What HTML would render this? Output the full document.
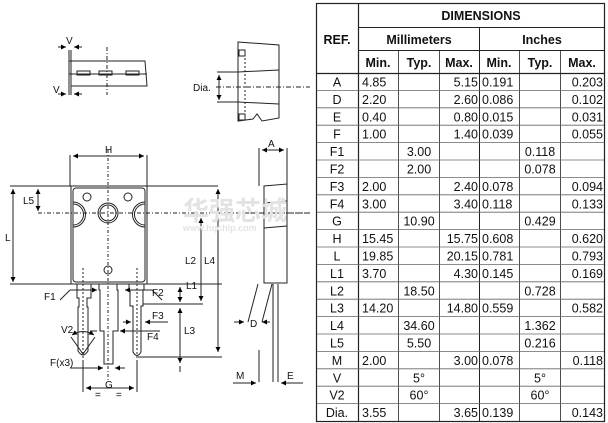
<!DOCTYPE html>
<html><head><meta charset="utf-8"><style>
body{margin:0;background:#fff;width:608px;height:423px;overflow:hidden;position:relative;font-family:"Liberation Sans",Arial,sans-serif}
svg{position:absolute;left:0;top:0}
</style></head><body>
<svg width="608" height="423" viewBox="0 0 608 423" font-family="Liberation Sans, Arial, sans-serif">
<defs><marker id="a" viewBox="0 0 6 6" refX="6" refY="3" markerWidth="5" markerHeight="5" orient="auto-start-reverse"><path d="M0,0L6,3L0,6z" fill="#000"/></marker></defs>
<g fill="none" stroke="#222" stroke-width="1">
<!-- top-left view -->
<path d="M69,61 H145 L147,86 H71"/>
<line x1="69" y1="74" x2="147" y2="74"/>
<rect x="77" y="71" width="13" height="4"/><rect x="99" y="71" width="13" height="4"/><rect x="126" y="71" width="13" height="4"/>
<line x1="69" y1="50" x2="69" y2="95"/><line x1="71" y1="50" x2="71" y2="95"/>
<line x1="107" y1="47" x2="107" y2="95" stroke-dasharray="4,2,1,2"/>
<line x1="58" y1="47" x2="66" y2="47" marker-end="url(#a)"/><line x1="82" y1="47" x2="74" y2="47" marker-end="url(#a)"/>
<line x1="58" y1="94" x2="66" y2="94" marker-end="url(#a)"/><line x1="82" y1="94" x2="74" y2="94" marker-end="url(#a)"/>
<!-- top-right view -->
<path d="M238,42 L279,45 L279,118 L262,121 L257,114 L253,119 L238,121 Z"/>
<line x1="238" y1="72" x2="279" y2="70"/><line x1="238" y1="102" x2="279" y2="104"/>
<rect x="239" y="50" width="6" height="6"/><rect x="239" y="114" width="6" height="6"/>
<line x1="245" y1="50" x2="245" y2="120" stroke-dasharray="2,2"/>
<line x1="217" y1="72" x2="238" y2="72"/><line x1="217" y1="102" x2="238" y2="102"/>
<line x1="219" y1="75" x2="219" y2="100" marker-start="url(#a)" marker-end="url(#a)"/>
<line x1="216" y1="87" x2="310" y2="87" stroke-dasharray="5,2,1,2"/>
<!-- main view -->
<line x1="70" y1="155" x2="70" y2="186"/><line x1="147" y1="155" x2="147" y2="186"/>
<line x1="73" y1="156" x2="144" y2="156" marker-start="url(#a)" marker-end="url(#a)"/>
<line x1="10" y1="186" x2="218" y2="186"/>
<line x1="10" y1="284" x2="222" y2="284"/>
<rect x="71" y="186" width="76" height="98"/>
<rect x="73" y="188" width="72" height="94" rx="3"/>
<circle cx="87" cy="197" r="4"/><circle cx="128" cy="197" r="4"/>
<circle cx="108" cy="213" r="10"/><circle cx="108" cy="213" r="8"/>
<path d="M73,202 A11,11 0 0 1 73,227 M73,204 A9,9 0 0 1 73,225"/>
<path d="M145,202 A11,11 0 0 0 145,227 M145,204 A9,9 0 0 0 145,225"/>
<circle cx="108" cy="270" r="4"/>
<line x1="108" y1="150" x2="108" y2="380" stroke-dasharray="3,2,1,2"/>
<line x1="38" y1="213" x2="310" y2="213" stroke-dasharray="4,2,1,2"/>
<line x1="13" y1="189" x2="13" y2="282" marker-start="url(#a)" marker-end="url(#a)"/>
<line x1="38" y1="189" x2="38" y2="211" marker-start="url(#a)" marker-end="url(#a)"/>
<line x1="201" y1="218" x2="201" y2="301" marker-start="url(#a)" marker-end="url(#a)"/>
<line x1="218" y1="189" x2="218" y2="352" marker-start="url(#a)" marker-end="url(#a)"/>
<line x1="180" y1="287" x2="180" y2="302" marker-start="url(#a)" marker-end="url(#a)"/>
<line x1="180" y1="308" x2="180" y2="363" marker-start="url(#a)" marker-end="url(#a)"/>
<line x1="180" y1="366" x2="180" y2="372" />
<line x1="143" y1="304" x2="203" y2="304"/><line x1="138" y1="357" x2="222" y2="357"/>
<!-- leads -->
<path d="M77,284 V298 H79 V307 H78 V351 Q83,359 88,351 V307 H87 V298 H91 V284"/>
<path d="M99,284 V290 H100 V331 H104 V364 H113 V331 H118 V290 H117 V284"/>
<path d="M129,284 V290 H130 V306 H133 V352 Q137,359 141,352 V306 H143 V290 H144 V284"/>
<line x1="83" y1="268" x2="83" y2="360" stroke-dasharray="2,2"/><line x1="137" y1="268" x2="137" y2="360" stroke-dasharray="2,2"/>
<line x1="83" y1="360" x2="83" y2="392"/><line x1="137" y1="360" x2="137" y2="392"/>
<line x1="86" y1="388" x2="134" y2="388" marker-start="url(#a)" marker-end="url(#a)"/>
<line x1="70" y1="368" x2="103" y2="368" marker-end="url(#a)"/><line x1="125" y1="368" x2="115" y2="368" marker-end="url(#a)"/>
<path d="M71,337 L83,354 L95,337"/><path d="M72,335 Q83,328 94,335" marker-start="url(#a)" marker-end="url(#a)"/>
<line x1="123" y1="322" x2="131" y2="322" marker-end="url(#a)"/><line x1="168" y1="322" x2="145" y2="322" marker-end="url(#a)"/>
<line x1="90" y1="331" x2="97" y2="331"/><line x1="160" y1="331" x2="120" y2="331" marker-end="url(#a)"/>
<line x1="60" y1="300" x2="70" y2="290"/><line x1="70" y1="290" x2="97" y2="290" marker-end="url(#a)"/>
<line x1="162" y1="300" x2="152" y2="290"/><line x1="152" y1="290" x2="125" y2="290" marker-end="url(#a)"/>
<!-- side view -->
<line x1="259" y1="148" x2="259" y2="186"/><line x1="287" y1="148" x2="287" y2="186"/>
<line x1="262" y1="150" x2="284" y2="150" marker-start="url(#a)" marker-end="url(#a)"/>
<path d="M264,186 L287,184 V283 H264 Z"/>
<line x1="264" y1="203" x2="287" y2="201"/><line x1="264" y1="228" x2="287" y2="226"/>
<line x1="250" y1="213" x2="310" y2="213" stroke-dasharray="4,2,1,2"/>
<path d="M273,284 V382 M278,284 V382"/>
<line x1="259" y1="350" x2="259" y2="382"/>
<line x1="258" y1="284" x2="248" y2="322"/><line x1="272" y1="284" x2="262" y2="322"/>
<line x1="234" y1="322" x2="244" y2="322" marker-end="url(#a)"/><line x1="270" y1="322" x2="262" y2="322" marker-end="url(#a)"/>
<line x1="233" y1="383" x2="256" y2="383" marker-end="url(#a)"/><line x1="303" y1="383" x2="281" y2="383" marker-end="url(#a)"/>
</g>
<g font-size="10" fill="#111">
<text x="66" y="44">V</text><text x="53" y="93">V</text><text x="193" y="91">Dia.</text>
<text x="105" y="153">H</text><text x="5" y="241">L</text><text x="23" y="204">L5</text>
<text x="185" y="264">L2</text><text x="204" y="264">L4</text><text x="186" y="289">L1</text><text x="184" y="334">L3</text>
<text x="44" y="300">F1</text><text x="152" y="296">F2</text><text x="152" y="319">F3</text><text x="147" y="340">F4</text>
<text x="61" y="333">V2</text><text x="50" y="366">F(x3)</text><text x="105" y="388">G</text>
<text x="95" y="398">=</text><text x="116" y="398">=</text>
<text x="268" y="147">A</text><text x="250" y="327">D</text><text x="236" y="379">M</text><text x="287" y="379">E</text>
</g>
<g fill="#e3e3e3" font-weight="bold"><text x="183" y="220" font-size="26" font-family="Noto Sans CJK SC, sans-serif">华强芯城</text>
<text x="183" y="231" font-size="9">www.hqchip.com</text></g>
<!-- table -->
<g stroke="#222" fill="none">
<rect x="316.5" y="3.5" width="288" height="418" stroke-width="1.2"/>
<line x1="358.5" y1="3" x2="358.5" y2="422" stroke-width="1.2"/>
<line x1="358" y1="27.5" x2="604" y2="27.5" stroke-width="1"/>
<line x1="358" y1="50.5" x2="604" y2="50.5" stroke-width="1"/>
<line x1="316" y1="73.5" x2="604" y2="73.5" stroke-width="1.2"/>
<line x1="479.5" y1="27" x2="479.5" y2="422"/>
<line x1="398.5" y1="50" x2="398.5" y2="422" stroke-width="0.8"/><line x1="439.5" y1="50" x2="439.5" y2="422" stroke-width="0.8"/>
<line x1="519.5" y1="50" x2="519.5" y2="422" stroke-width="0.8"/><line x1="560.5" y1="50" x2="560.5" y2="422" stroke-width="0.8"/>
</g>
<g stroke="#666" stroke-width="0.8" id="rl"></g>
<g font-size="12.5" font-weight="bold" fill="#111" text-anchor="middle">
<text x="481" y="20">DIMENSIONS</text><text x="337" y="44">REF.</text>
<text x="419" y="44">Millimeters</text><text x="542" y="44">Inches</text>
<text x="378" y="67">Min.</text><text x="419" y="67">Typ.</text><text x="459" y="67">Max.</text>
<text x="499" y="67">Min.</text><text x="540" y="67">Typ.</text><text x="582" y="67">Max.</text>
</g>
<g id="rows" font-size="12.5" fill="#111"></g>
</svg>
<script>
var d=[["A","4.85","","5.15","0.191","","0.203"],["D","2.20","","2.60","0.086","","0.102"],["E","0.40","","0.80","0.015","","0.031"],["F","1.00","","1.40","0.039","","0.055"],["F1","","3.00","","","0.118",""],["F2","","2.00","","","0.078",""],["F3","2.00","","2.40","0.078","","0.094"],["F4","3.00","","3.40","0.118","","0.133"],["G","","10.90","","","0.429",""],["H","15.45","","15.75","0.608","","0.620"],["L","19.85","","20.15","0.781","","0.793"],["L1","3.70","","4.30","0.145","","0.169"],["L2","","18.50","","","0.728",""],["L3","14.20","","14.80","0.559","","0.582"],["L4","","34.60","","","1.362",""],["L5","","5.50","","","0.216",""],["M","2.00","","3.00","0.078","","0.118"],["V","","5°","","","5°",""],["V2","","60°","","","60°",""],["Dia.","3.55","","3.65","0.139","","0.143"]];
var ns="http://www.w3.org/2000/svg",g=document.getElementById("rows"),rl=document.getElementById("rl");
var cx=[[337,"middle"],[362,"start"],[419,"middle"],[478,"end"],[482,"start"],[540,"middle"],[603,"end"]];
d.forEach(function(r,i){var y=73+17.4*i;
if(i>0){var l=document.createElementNS(ns,"line");l.setAttribute("x1",317);l.setAttribute("x2",604);l.setAttribute("y1",y);l.setAttribute("y2",y);rl.appendChild(l);}
r.forEach(function(v,j){if(!v)return;var t=document.createElementNS(ns,"text");t.setAttribute("x",cx[j][0]);t.setAttribute("y",y+13.5);t.setAttribute("text-anchor",cx[j][1]);t.textContent=v;g.appendChild(t);});});
</script>
</body></html>
